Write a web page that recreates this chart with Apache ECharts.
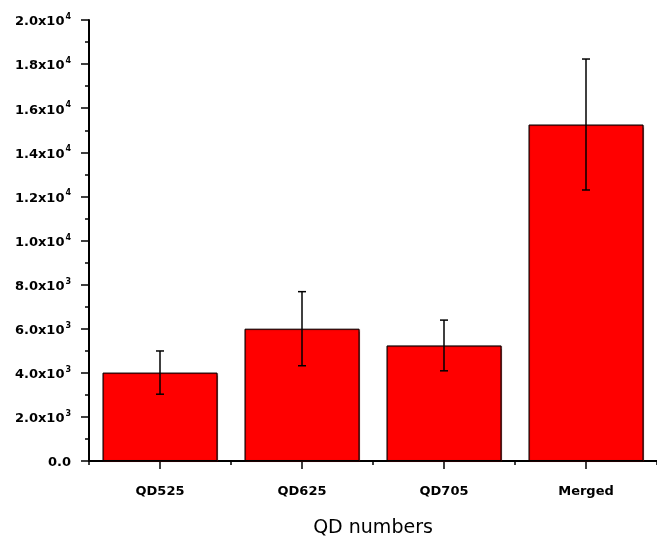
<!DOCTYPE html>
<html>
<head>
<meta charset="utf-8">
<script src="https://cdn.jsdelivr.net/npm/echarts@6/dist/echarts.min.js"></script>
<style>
  html, body { margin: 0; padding: 0; background: #fff; }
  #chart { width: 657px; height: 543px; }
</style>
</head>
<body>
<div id="chart"></div>
<script>
// ---- data ----
const categories = ['QD525', 'QD625', 'QD705', 'Merged'];
const means = [4010, 6000, 5240, 15260];
const errors = [980, 1680, 1150, 2970];
const yTicks = [0, 2000, 4000, 6000, 8000, 10000, 12000, 14000, 16000, 18000, 20000];
const xAxisTitle = 'QD numbers';

const chart = echarts.init(document.getElementById('chart'), null, { renderer: 'canvas' });

function sciLabel(v) {
  if (v === 0) return '{b|0.0}';
  const e = Math.floor(Math.log10(v) + 1e-9);
  const m = v / Math.pow(10, e);
  return '{b|' + m.toFixed(1) + 'x10}{s|' + e + '}';
}

const errData = categories.map((c, i) => [i, means[i] - errors[i], means[i] + errors[i]]);

const option = {
  backgroundColor: '#ffffff',
  animation: false,
  grid: { left: 89, top: 20, width: 576, height: 442, containLabel: false },
  xAxis: [
    {
      type: 'category',
      data: categories,
      position: 'bottom',
      boundaryGap: true,
      axisLine: { show: true, lineStyle: { color: '#000', width: 2 } },
      axisTick: { show: true, alignWithLabel: true, length: 8, lineStyle: { color: '#000', width: 1.5 } },
      axisLabel: {
        show: true, margin: 24, color: '#000',
        fontFamily: 'DejaVu Sans', fontWeight: 'bold', fontSize: 13
      },
      name: xAxisTitle,
      nameLocation: 'middle',
      nameGap: 58,
      nameTextStyle: { color: '#000', fontFamily: 'DejaVu Sans', fontSize: 19 },
      splitLine: { show: false }
    },
    {
      type: 'category',
      data: categories,
      position: 'bottom',
      boundaryGap: true,
      axisLine: { show: false },
      axisTick: { show: true, alignWithLabel: false, length: 4, lineStyle: { color: '#000', width: 1.5 } },
      axisLabel: { show: false },
      splitLine: { show: false }
    }
  ],
  yAxis: {
    type: 'value',
    min: yTicks[0],
    max: yTicks[yTicks.length - 1],
    interval: yTicks[1] - yTicks[0],
    axisLine: { show: true, lineStyle: { color: '#000', width: 2 } },
    axisTick: { show: true, inside: false, length: 8, lineStyle: { color: '#000', width: 1.5 } },
    minorTick: { show: true, splitNumber: 2, length: 4, lineStyle: { color: '#000', width: 1.5 } },
    splitLine: { show: false },
    minorSplitLine: { show: false },
    axisLabel: {
      show: true,
      margin: 18,
      formatter: sciLabel,
      rich: {
        b: { fontFamily: 'DejaVu Sans', fontWeight: 'bold', fontSize: 13, color: '#000', padding: [4, 0, 0, 0] },
        s: { fontFamily: 'DejaVu Sans', fontWeight: 'bold', fontSize: 8, color: '#000', padding: [0, 0, 6, 1] }
      }
    }
  },
  series: [
    {
      type: 'bar',
      xAxisIndex: 0,
      data: means,
      barWidth: 115,
      itemStyle: {
        color: '#ff0000',
        borderColor: '#000',
        borderWidth: 1,
        shadowColor: 'rgba(110,0,0,0.55)',
        shadowBlur: 1,
        shadowOffsetX: 0.5,
        shadowOffsetY: 0.5
      },
      z: 2
    },
    {
      type: 'custom',
      xAxisIndex: 0,
      data: errData,
      z: 10,
      renderItem: function (params, api) {
        const x = api.value(0);
        const pLo = api.coord([x, api.value(1)]);
        const pHi = api.coord([x, api.value(2)]);
        const hw = 4;
        const st = { stroke: '#000', lineWidth: 1.5 };
        return {
          type: 'group',
          children: [
            { type: 'line', shape: { x1: pHi[0], y1: pHi[1], x2: pLo[0], y2: pLo[1] }, style: st },
            { type: 'line', shape: { x1: pHi[0] - hw, y1: pHi[1], x2: pHi[0] + hw, y2: pHi[1] }, style: st },
            { type: 'line', shape: { x1: pLo[0] - hw, y1: pLo[1], x2: pLo[0] + hw, y2: pLo[1] }, style: st }
          ]
        };
      }
    }
  ]
};

chart.setOption(option);
</script>
</body>
</html>
